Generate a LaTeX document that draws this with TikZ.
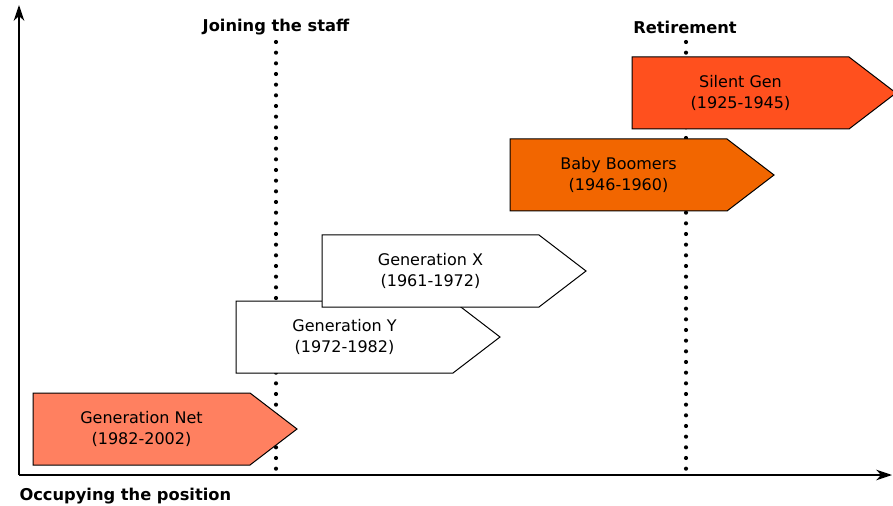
\documentclass[tikz,border=0pt]{standalone}
\usepackage{fontspec}
\setmainfont{DejaVu Sans}
\usetikzlibrary{arrows.meta}

\definecolor{netfill}{RGB}{255,128,96}
\definecolor{boomfill}{RGB}{242,102,0}
\definecolor{silentfill}{RGB}{255,80,30}

\tikzset{every picture/.style={line width=0.75pt}}
\tikzset{
  genshape/.style={draw=black, line width=0.75pt},
  gentext/.style={align=center, inner sep=0pt, font=\fontsize{12}{15.5}\selectfont},
  axisline/.style={line width=1.1pt, -{Stealth[length=12pt,width=8pt]}},
  dotline/.style={line width=3.1pt, line cap=round, dash pattern=on 0pt off 8pt},
  toplabel/.style={font=\bfseries\fontsize{12.2}{14}\selectfont, inner sep=0pt}
}

% pentagon arrow: name, left x, top y, fill, text
\newcommand{\genarrow}[5]{%
  \draw[genshape, fill=#4] (#2,#3) -- ++(217,0) -- ++(47,36) -- ++(-47,36) -- ++(-217,0) -- cycle;
  \node[gentext] (#1) at (#2+108.5,#3+36) {#5};
}

\begin{document}
\begin{tikzpicture}[x=0.75pt,y=0.75pt,yscale=-1,xscale=1]
\useasboundingbox (0,0) rectangle (893,506);

%Axes
\coordinate (origin) at (19,475);
\coordinate (ytop) at (19,5);
\coordinate (xend) at (892,475);
\draw[axisline] (origin) -- (ytop);
\draw[axisline] (origin) -- (xend);

% Text Node
\node[toplabel] (join) at (276,27) {Joining the staff};
% Text Node
\node[toplabel] (retire) at (685,27) {Retirement};
% Text Node
\node[toplabel, anchor=west] (occupy) at (19,496) {Occupying the position};

%Dotted Lines
\coordinate (joinbot) at (276,478);
\coordinate (retirebot) at (686,478);
\draw[dotline] (276,42) -- (joinbot);
\draw[dotline] (686,42) -- (retirebot);

%Generations
\genarrow{net}{33}{393}{netfill}{Generation Net\\(1982-2002)}
\genarrow{geny}{236}{301}{white}{Generation Y\\(1972-1982)}
\genarrow{genx}{322}{235}{white}{Generation X\\(1961-1972)}
\genarrow{boom}{510}{139}{boomfill}{Baby Boomers\\(1946-1960)}
\genarrow{silent}{632}{57}{silentfill}{Silent Gen\\(1925-1945)}

\end{tikzpicture}
\end{document}
